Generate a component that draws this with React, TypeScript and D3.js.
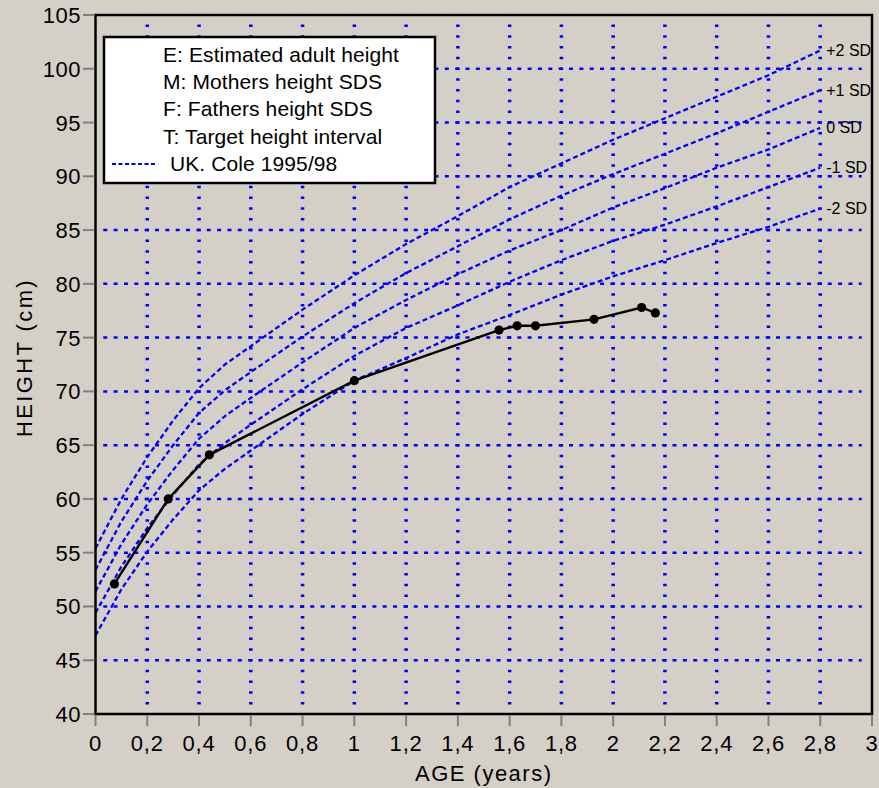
import React from 'react';
import * as d3 from 'd3';

// UK. Cole 1995/98 reference curves (height, cm)
const ages = [0, 0.1, 0.2, 0.3, 0.4, 0.5, 0.6, 0.8, 1.0, 1.2, 1.4, 1.6, 1.8, 2.0, 2.2, 2.4, 2.6, 2.8];
const sdPlus2 = [55.4, 60.0, 63.9, 67.3, 70.3, 72.5, 74.2, 77.6, 80.8, 83.7, 86.3, 89.0, 91.2, 93.4, 95.4, 97.4, 99.4, 101.7];
const sdPlus1 = [53.4, 57.9, 61.7, 65.0, 68.0, 70.1, 71.8, 75.1, 78.2, 81.0, 83.5, 86.0, 88.2, 90.2, 92.1, 94.0, 96.0, 98.0];
const sd0 = [51.4, 55.8, 59.5, 62.7, 65.6, 67.7, 69.4, 72.7, 75.9, 78.5, 80.9, 83.1, 85.0, 87.1, 88.9, 90.8, 92.5, 94.5];
const sdMinus1 = [49.4, 53.7, 57.3, 60.4, 63.2, 65.2, 66.9, 70.2, 73.3, 75.9, 78.0, 80.2, 82.2, 84.0, 85.5, 87.2, 89.0, 90.8];
const sdMinus2 = [47.3, 51.6, 55.1, 58.1, 60.8, 62.8, 64.5, 67.9, 71.0, 73.1, 75.3, 77.1, 79.0, 80.7, 82.2, 83.8, 85.3, 87.0];
const sdLabels = ['+2 SD', '+1 SD', '0 SD', '-1 SD', '-2 SD'];

// measured heights of the child
const obsAge = [0.073, 0.281, 0.44, 1.0, 1.559, 1.629, 1.7, 1.926, 2.11, 2.163];
const obsHeight = [52.1, 60.0, 64.1, 71.0, 75.7, 76.1, 76.1, 76.7, 77.8, 77.3];

const xTicks = d3.range(0, 3.0001, 0.2).map((d) => Math.round(d * 10) / 10);
const yTicks = d3.range(40, 106, 5);
const legendLines = [
  'E: Estimated adult height',
  'M: Mothers height SDS',
  'F: Fathers height SDS',
  'T: Target height interval',
];

const W = 879;
const H = 788;
const font = 'Liberation Sans, Arial, sans-serif';
const BLUE = '#0000ff';

export default function App() {
  const x = d3.scaleLinear().domain([0, 3]).range([95.5, 872]);
  const y = d3.scaleLinear().domain([40, 105]).range([714, 15]);

  const curves = [sdPlus2, sdPlus1, sd0, sdMinus1, sdMinus2];
  const line = d3
    .line<number>()
    .x((_, i) => x(ages[i]))
    .y((d) => y(d));

  const obsLine = d3
    .line<number>()
    .x((_, i) => x(obsAge[i]))
    .y((d) => y(d));

  const fmt = (v: number) => String(v).replace('.', ',');

  return (
    <svg width={W} height={H} style={{ position: 'absolute', left: 0, top: 0 }} fontFamily={font}>
      <defs>
        <clipPath id="plot">
          <rect x={x(0)} y={y(105)} width={x(3) - x(0)} height={y(40) - y(105)} />
        </clipPath>
      </defs>
      <rect width={W} height={H} fill="#d4d0c8" />

      {/* grid */}
      <g>
        {yTicks
          .filter((v) => v > 40 && v < 105)
          .map((v) => (
            <line
              key={'h' + v}
              x1={x(0.03)}
              x2={x(2.96)}
              y1={y(v)}
              y2={y(v)}
              stroke={BLUE}
              strokeWidth={2.5}
              strokeDasharray="4,6.35"
            />
          ))}
        {xTicks
          .filter((v) => v > 0 && v < 3)
          .map((v) => (
            <line
              key={'v' + v}
              x1={x(v)}
              x2={x(v)}
              y1={y(104) - 1.25}
              y2={y(41) + 1.25}
              stroke={BLUE}
              strokeWidth={3.5}
              strokeDasharray={`2.5,${y(40) - y(41) - 2.5}`}
            />
          ))}
      </g>

      {/* reference curves */}
      <g clipPath="url(#plot)">
        {curves.map((c, i) => (
          <path key={i} d={line(c) || ''} fill="none" stroke={BLUE} strokeWidth={2.3} strokeDasharray="5,3" />
        ))}
        {curves.map((c, i) => (
          <text
            key={'l' + i}
            x={x(ages[ages.length - 1]) + 6}
            y={y(c[c.length - 1]) + 5.5}
            fontSize={16}
            fill="#000"
          >
            {sdLabels[i]}
          </text>
        ))}
      </g>

      {/* child's measurements */}
      <path d={obsLine(obsHeight) || ''} fill="none" stroke="#000" strokeWidth={2.4} />
      {obsHeight.map((h, i) => (
        <circle key={i} cx={x(obsAge[i])} cy={y(h)} r={4.6} fill="#000" />
      ))}

      {/* frame */}
      <rect
        x={x(0)}
        y={y(105)}
        width={x(3) - x(0)}
        height={y(40) - y(105)}
        fill="none"
        stroke="#000"
        strokeWidth={2.5}
      />

      {/* axes */}
      {yTicks.map((v) => (
        <g key={'yt' + v}>
          <line x1={x(0) - 12.5} x2={x(0) - 1} y1={y(v)} y2={y(v)} stroke="#808080" strokeWidth={2} />
          <text x={81} y={y(v) + 8} textAnchor="end" fontSize={22} letterSpacing={0.5}>
            {v}
          </text>
        </g>
      ))}
      {xTicks.map((v) => (
        <g key={'xt' + v}>
          <line x1={x(v)} x2={x(v)} y1={y(40) + 1} y2={y(40) + 12} stroke="#808080" strokeWidth={2} />
          <text x={x(v)} y={751} textAnchor="middle" fontSize={22} letterSpacing={0.8}>
            {fmt(v)}
          </text>
        </g>
      ))}
      <text x={(x(0) + x(3)) / 2} y={781} textAnchor="middle" fontSize={22} letterSpacing={1.5}>
        AGE (years)
      </text>
      <text
        transform={`translate(32,${(y(40) + y(105)) / 2 - 7}) rotate(-90)`}
        textAnchor="middle"
        fontSize={22}
        letterSpacing={2.4}
      >
        HEIGHT (cm)
      </text>

      {/* legend */}
      <rect x={104} y={37} width={331} height={146} fill="#fff" stroke="#000" strokeWidth={2.5} />
      {legendLines.map((t, i) => (
        <text key={t} x={163} y={62 + i * 27.2} fontSize={21} letterSpacing={0.1}>
          {t}
        </text>
      ))}
      <line x1={112} x2={157} y1={164} y2={164} stroke={BLUE} strokeWidth={2} strokeDasharray="4,2.5" />
      <text x={170} y={171} fontSize={21} letterSpacing={0.1}>
        UK. Cole 1995/98
      </text>
    </svg>
  );
}
